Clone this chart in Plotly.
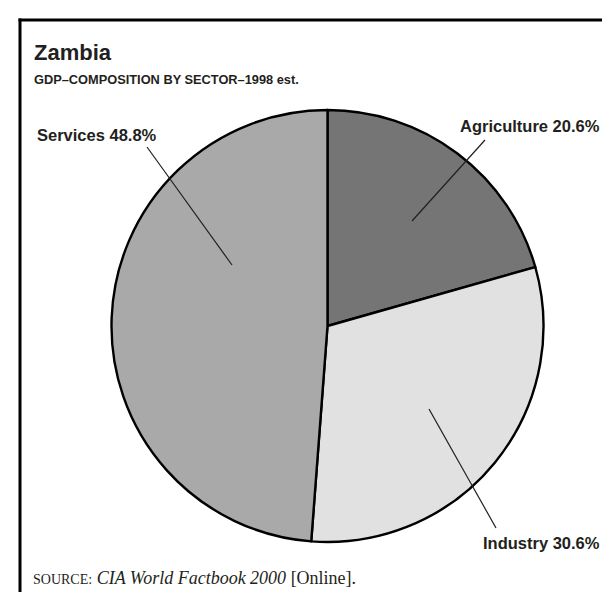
import plotly.graph_objects as go

# ---- data ----
sectors = ["Agriculture", "Industry", "Services"]
shares = [20.6, 30.6, 48.8]
colors = ["#757575", "#e1e1e1", "#a9a9a9"]
title_text = "Zambia"
subtitle_text = "GDP–COMPOSITION BY SECTOR–1998 est."
source_text = "<span style='font-size:14px'>SOURCE:</span> <i>CIA World Factbook 2000</i> [Online]."

W, H = 610, 592
CX, CY, R = 319.5, 318, 216

def px(x):
    return x / W

def py(y):
    return 1 - y / H

# label layout (pixel positions): text anchor, leader line inner/outer ends
label_layout = {
    "Agriculture": dict(tx=594, ty=118.5, xanchor="right", line=((404, 213), (477, 132))),
    "Industry": dict(tx=594, ty=534.5, xanchor="right", line=((421, 401), (488, 520))),
    "Services": dict(tx=27, ty=127, xanchor="left", line=((224, 257), (139, 139))),
}

LABEL_FONT = "Liberation Sans, Arial, Helvetica, sans-serif"
SERIF_FONT = "Liberation Serif, Times New Roman, Times, serif"

fig = go.Figure()
fig.add_trace(go.Pie(
    labels=sectors,
    values=shares,
    sort=False,
    direction="clockwise",
    rotation=0,
    textinfo="none",
    hoverinfo="label+percent",
    marker=dict(colors=colors, line=dict(color="#000000", width=2.4)),
    domain=dict(x=[px(CX - R), px(CX + R)], y=[py(CY + R), py(CY - R)]),
    showlegend=False,
))

annotations = []
shapes = []
for name, val in zip(sectors, shares):
    lay = label_layout[name]
    annotations.append(dict(
        x=px(lay["tx"]), y=py(lay["ty"]), xref="paper", yref="paper",
        xanchor=lay["xanchor"], yanchor="middle", showarrow=False,
        text=f"<b>{name} {val:.1f}%</b>",
        font=dict(family=LABEL_FONT, size=16.5, color="#231f20"),
    ))
    (x0, y0), (x1, y1) = lay["line"]
    shapes.append(dict(type="line", xref="paper", yref="paper",
                       x0=px(x0), y0=py(y0), x1=px(x1), y1=py(y1),
                       line=dict(color="#231f20", width=1.2)))

# title, subtitle, source
annotations += [
    dict(x=px(24), y=py(45), xref="paper", yref="paper", xanchor="left", yanchor="middle",
         showarrow=False, text=f"<b>{title_text}</b>",
         font=dict(family=LABEL_FONT, size=22, color="#231f20")),
    dict(x=px(24), y=py(72), xref="paper", yref="paper", xanchor="left", yanchor="middle",
         showarrow=False, text=f"<b>{subtitle_text}</b>",
         font=dict(family=LABEL_FONT, size=12.8, color="#231f20")),
    dict(x=px(23), y=py(570), xref="paper", yref="paper", xanchor="left", yanchor="middle",
         showarrow=False, text=source_text,
         font=dict(family=SERIF_FONT, size=18, color="#231f20")),
]

# frame (top and left rules)
shapes += [
    dict(type="line", xref="paper", yref="paper", x0=px(10.5), y0=py(12), x1=px(610), y1=py(12),
         line=dict(color="#000000", width=3)),
    dict(type="line", xref="paper", yref="paper", x0=px(12), y0=py(10.5), x1=px(12), y1=py(592),
         line=dict(color="#000000", width=3)),
]

fig.update_layout(
    width=W, height=H,
    margin=dict(l=0, r=0, t=0, b=0),
    paper_bgcolor="#ffffff",
    plot_bgcolor="#ffffff",
    annotations=annotations,
    shapes=shapes,
)

fig.write_html("out.html")
